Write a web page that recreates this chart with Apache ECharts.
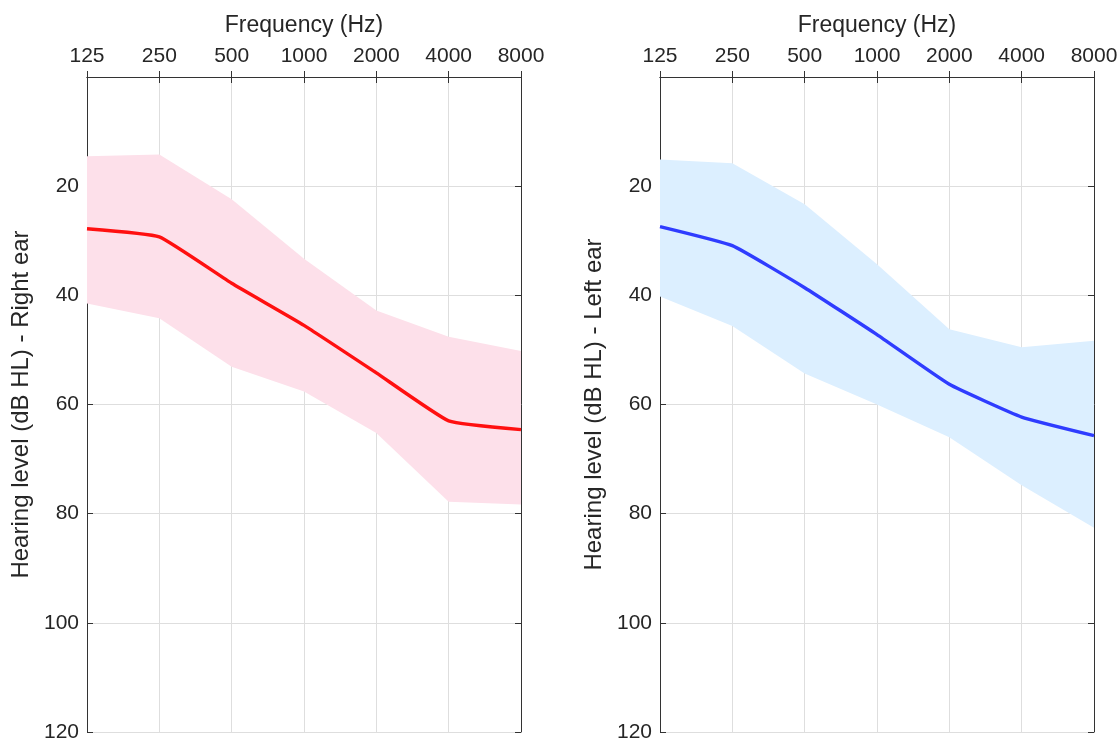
<!DOCTYPE html>
<html>
<head>
<meta charset="utf-8">
<script src="https://cdn.jsdelivr.net/npm/echarts@6/dist/echarts.min.js"></script>
<style>
  html, body { margin: 0; padding: 0; background: #fff; }
  #chart { width: 1120px; height: 740px; }
</style>
</head>
<body>
<div id="chart"></div>
<script>
// Audiometric frequencies (Hz)
const frequencies = ['125', '250', '500', '1000', '2000', '4000', '8000'];
const yTicks = [0, 20, 40, 60, 80, 100, 120];

// Right ear: mean threshold and spread band (dB HL)
const rightMean  = [27.8, 29.3, 37.8, 45.5, 54.2, 63.0, 64.6];
const rightUpper = [14.5, 14.2, 22.4, 33.3, 42.8, 47.6, 50.2];
const rightLower = [41.5, 44.2, 53.1, 57.6, 65.2, 77.8, 78.3];

// Left ear: mean threshold and spread band (dB HL)
const leftMean  = [27.4, 30.9, 38.6, 47.2, 56.3, 62.3, 65.7];
const leftUpper = [15.1, 15.8, 23.3, 34.3, 46.2, 49.5, 48.3];
const leftLower = [40.2, 45.6, 54.3, 60.0, 66.0, 74.8, 82.6];

const FONT = 'Liberation Sans, Arial, Helvetica, sans-serif';
const TEXT_COLOR = '#262626';
const AXIS_COLOR = '#333333';
const GRID_COLOR = '#dedede';

const grids = [
  { left: 87, top: 77, width: 434, height: 655, outerBoundsMode: 'none', containLabel: false },
  { left: 660, top: 77, width: 434, height: 655, outerBoundsMode: 'none', containLabel: false }
];

function bandDiff(upper, lower) {
  return lower.map((v, i) => +(v - upper[i]).toFixed(2));
}

const xAxes = [];
const yAxes = [];
[0, 1].forEach(g => {
  // top axis: tick labels, ticks drawn into the plot, title
  xAxes.push({
    gridIndex: g, type: 'category', data: frequencies, position: 'top',
    boundaryGap: false,
    name: 'Frequency (Hz)', nameLocation: 'middle', nameGap: 40,
    nameTextStyle: { fontFamily: FONT, fontSize: 23, color: TEXT_COLOR },
    axisLine: { show: true, lineStyle: { color: AXIS_COLOR, width: 1 } },
    axisTick: { show: true, inside: false, length: -6, interval: 0, lineStyle: { color: AXIS_COLOR } },
    axisLabel: { fontFamily: FONT, fontSize: 21, color: TEXT_COLOR, margin: 10, interval: 0 },
    splitLine: { show: true, lineStyle: { color: GRID_COLOR, width: 1 } }
  });
  // bottom frame axis
  xAxes.push({
    gridIndex: g, type: 'category', data: frequencies, position: 'bottom',
    boundaryGap: false,
    axisLine: { show: true, lineStyle: { color: AXIS_COLOR, width: 1 } },
    axisTick: { show: true, inside: false, length: -6, interval: 0, lineStyle: { color: AXIS_COLOR } },
    axisLabel: { show: false },
    splitLine: { show: false }
  });
  // left axis with labels
  yAxes.push({
    gridIndex: g, type: 'value', inverse: true, min: 0, max: 120, interval: 20,
    position: 'left',
    name: g === 0 ? 'Hearing level (dB HL) - Right ear' : 'Hearing level (dB HL) - Left ear',
    nameLocation: 'middle', nameGap: 54, nameRotate: 90,
    nameTextStyle: { fontFamily: FONT, fontSize: 24, color: TEXT_COLOR },
    axisLine: { show: true, lineStyle: { color: AXIS_COLOR, width: 1 } },
    axisTick: { show: true, inside: true, length: 6, lineStyle: { color: AXIS_COLOR } },
    axisLabel: {
      fontFamily: FONT, fontSize: 21, color: TEXT_COLOR, margin: 8,
      formatter: v => (yTicks.indexOf(v) > 0 ? String(v) : '')
    },
    splitLine: { show: true, lineStyle: { color: GRID_COLOR, width: 1 } }
  });
  // right frame axis
  yAxes.push({
    gridIndex: g, type: 'value', inverse: true, min: 0, max: 120, interval: 20,
    position: 'right',
    axisLine: { show: true, lineStyle: { color: AXIS_COLOR, width: 1 } },
    axisTick: { show: true, inside: true, length: 6, lineStyle: { color: AXIS_COLOR } },
    axisLabel: { show: false },
    splitLine: { show: false }
  });
});

function earSeries(g, upper, lower, mean, bandColor, lineColor, key) {
  const xi = g * 2, yi = g * 2;
  return [
    {
      type: 'line', xAxisIndex: xi, yAxisIndex: yi, data: upper,
      stack: 'band' + key, symbol: 'none', silent: true,
      lineStyle: { opacity: 0 }, z: 1
    },
    {
      type: 'line', xAxisIndex: xi, yAxisIndex: yi, data: bandDiff(upper, lower),
      stack: 'band' + key, symbol: 'none', silent: true,
      lineStyle: { opacity: 0 }, areaStyle: { color: bandColor, opacity: 1 }, z: 1
    },
    {
      type: 'line', xAxisIndex: xi, yAxisIndex: yi, data: mean,
      symbol: 'none', smooth: 0.12,
      lineStyle: { color: lineColor, width: 3.4 }, z: 3
    }
  ];
}

const chart = echarts.init(document.getElementById('chart'), null, { renderer: 'canvas' });
chart.setOption({
  backgroundColor: '#ffffff',
  animation: false,
  grid: grids,
  xAxis: xAxes,
  yAxis: yAxes,
  series: [
    ...earSeries(0, rightUpper, rightLower, rightMean, '#fde0ea', '#ff1010', 'R'),
    ...earSeries(1, leftUpper, leftLower, leftMean, '#dcefff', '#2f3cff', 'L')
  ]
});
</script>
</body>
</html>
